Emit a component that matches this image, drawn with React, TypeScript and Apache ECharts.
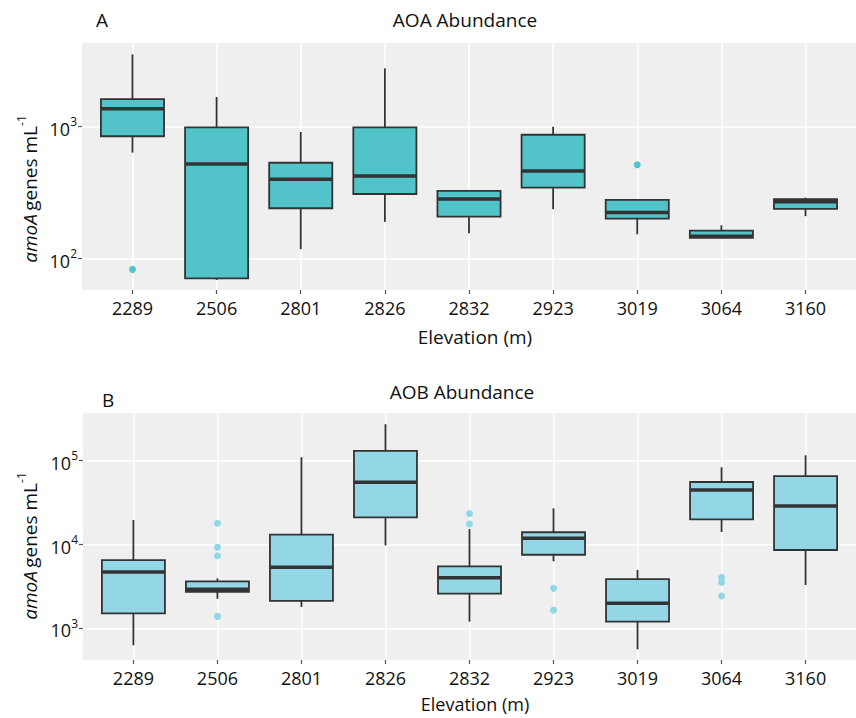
import React, { useEffect, useRef } from "react";
import * as echarts from "echarts";

// ---- data ----
const elevations = ["2289", "2506", "2801", "2826", "2832", "2923", "3019", "3064", "3160"];

// AOA amoA genes mL-1 (box statistics per elevation)
const aoaMin = [636, 69, 118, 190, 156, 237, 153, 144, 210];
const aoaQ1 = [846, 71, 241, 309, 208, 345, 201, 144, 238];
const aoaMedian = [1369, 521, 400, 423, 283, 461, 224, 148, 270];
const aoaQ3 = [1615, 989, 533, 989, 326, 869, 279, 163, 282];
const aoaMax = [3532, 1679, 912, 2767, 331, 1000, 279, 179, 290];
const aoaOutliers = [
  [0, 83],
  [6, 515],
];

// AOB amoA genes mL-1
const aobMin = [627, 2250, 1800, 9770, 1200, 6300, 561, 14100, 3290];
const aobQ1 = [1510, 2730, 2130, 21100, 2590, 7550, 1200, 20000, 8600];
const aobMedian = [4700, 2920, 5340, 55200, 4020, 11900, 1990, 44700, 28800];
const aobQ3 = [6530, 3640, 13100, 131000, 5500, 14000, 3870, 55700, 65600];
const aobMax = [19600, 3950, 110000, 272000, 15300, 27000, 4970, 83400, 116000];
const aobOutliers = [
  [1, 17900],
  [1, 9270],
  [1, 7350],
  [1, 1390],
  [4, 23500],
  [4, 17600],
  [5, 3000],
  [5, 1650],
  [7, 4060],
  [7, 3540],
  [7, 2430],
];

// axis ranges / ticks (genes mL-1, shown on a log10 scale)
const aoaRange = [57.9, 4305];
const aobRange = [419, 370700];
const aoaTicks = [100, 1000];
const aobTicks = [1000, 10000, 100000];

const FONT = "'Open Sans', 'Noto Sans', sans-serif";
const AOA_FILL = "#52C3C8";
const AOB_FILL = "#93D6E6";
const EDGE = "#333333";
const PANEL_BG = "#EFEFEF";

const lg = (v: number) => Math.log10(v);

function boxData(mins: number[], q1: number[], med: number[], q3: number[], max: number[]) {
  return elevations.map((_, i) => [i, lg(mins[i]), lg(q1[i]), lg(med[i]), lg(q3[i]), lg(max[i])]);
}

function outlierData(list: number[][]) {
  return list.map(([i, v]) => [i, lg(v)]);
}

function makeRender(fill: string) {
  return (params: any, api: any) => {
    const x = api.value(0);
    const pMin = api.coord([x, api.value(1)]);
    const pQ1 = api.coord([x, api.value(2)]);
    const pMed = api.coord([x, api.value(3)]);
    const pQ3 = api.coord([x, api.value(4)]);
    const pMax = api.coord([x, api.value(5)]);
    const left = api.coord([x - 0.375, api.value(3)])[0];
    const right = api.coord([x + 0.375, api.value(3)])[0];
    const cx = pMed[0];
    return {
      type: "group",
      children: [
        {
          type: "line",
          shape: { x1: cx, y1: pMax[1], x2: cx, y2: pQ3[1] },
          style: { stroke: EDGE, lineWidth: 1.8 },
        },
        {
          type: "line",
          shape: { x1: cx, y1: pQ1[1], x2: cx, y2: pMin[1] },
          style: { stroke: EDGE, lineWidth: 1.8 },
        },
        {
          type: "rect",
          shape: { x: left, y: pQ3[1], width: right - left, height: pQ1[1] - pQ3[1] },
          style: { fill, stroke: EDGE, lineWidth: 1.8 },
        },
        {
          type: "line",
          shape: { x1: left, y1: pMed[1], x2: right, y2: pMed[1] },
          style: { stroke: EDGE, lineWidth: 3.5 },
        },
      ],
    };
  };
}

const xIdx = elevations.map((_, i) => i);

function makeX(gridIndex: number) {
  return {
    type: "value",
    gridIndex,
    min: -0.6,
    max: 8.6,
    minInterval: 1,
    maxInterval: 1,
    splitNumber: 9,
    axisLine: { show: false, onZero: false },
    axisTick: {
      show: true,
      length: 4,
      customValues: xIdx,
      lineStyle: { color: "#555", width: 1.2 },
    },
    axisLabel: {
      customValues: xIdx,
      margin: 9,
      fontSize: 18,
      color: "#111",
      fontFamily: FONT,
      formatter: (v: number) =>
        Math.abs(v - Math.round(v)) < 1e-6 && elevations[Math.round(v)] ? elevations[Math.round(v)] : "",
    },
    splitLine: {
      show: true,
      lineStyle: { color: "#FFFFFF", width: 1.5 },
    },
  };
}

function makeY(gridIndex: number, range: number[], ticks: number[]) {
  const tickExp = ticks.map(lg);
  return {
    type: "value",
    gridIndex,
    min: lg(range[0]),
    max: lg(range[1]),
    minInterval: 1,
    maxInterval: 1,
    axisLine: { show: false, onZero: false },
    axisTick: {
      show: true,
      length: 4,
      customValues: tickExp,
      lineStyle: { color: "#555", width: 1.2 },
    },
    axisLabel: {
      customValues: tickExp,
      margin: 5,
      formatter: (v: number) => "{b|10}{s|" + Math.round(v) + "}",
      rich: {
        b: { fontSize: 18, lineHeight: 22, color: "#111", fontFamily: FONT, verticalAlign: "bottom" },
        s: { fontSize: 12, lineHeight: 14, color: "#111", fontFamily: FONT, verticalAlign: "top" },
      },
    },
    splitLine: {
      show: true,
      lineStyle: { color: "#FFFFFF", width: 1.5 },
    },
  };
}

function yTitle(x: number, y: number) {
  return {
    type: "text",
    x,
    y,
    rotation: Math.PI / 2,
    style: {
      text: "{i|amoA} {r|genes mL}{s|-1}",
      align: "center",
      verticalAlign: "middle",
      fill: "#111",
      rich: {
        i: { fontSize: 19, fontStyle: "italic", fontFamily: FONT, lineHeight: 24, verticalAlign: "bottom", fill: "#111" },
        r: { fontSize: 19, fontFamily: FONT, lineHeight: 24, verticalAlign: "bottom", fill: "#111" },
        s: { fontSize: 12, fontFamily: FONT, lineHeight: 14, verticalAlign: "top", fill: "#111" },
      },
    },
  };
}

function label(text: string, x: number, y: number, align: string, size: number) {
  return {
    type: "text",
    x,
    y,
    style: {
      text,
      fontSize: size,
      fontFamily: FONT,
      fill: "#111",
      align,
      verticalAlign: "middle",
    },
  };
}

export default function App() {
  const ref = useRef<HTMLDivElement>(null);

  useEffect(() => {
    if (!ref.current) return;
    const chart = echarts.init(ref.current, undefined, { renderer: "svg" });
    const option: any = {
      animation: false,
      backgroundColor: "#FFFFFF",
      textStyle: { fontFamily: FONT },
      grid: [
        { left: 82, top: 43, width: 788, height: 247, show: true, backgroundColor: PANEL_BG, borderWidth: 0 },
        { left: 83, top: 413, width: 781, height: 247, show: true, backgroundColor: PANEL_BG, borderWidth: 0 },
      ],
      xAxis: [makeX(0), makeX(1)],
      yAxis: [makeY(0, aoaRange, aoaTicks), makeY(1, aobRange, aobTicks)],
      series: [
        {
          type: "custom",
          name: "AOA",
          xAxisIndex: 0,
          yAxisIndex: 0,
          renderItem: makeRender(AOA_FILL),
          encode: { x: 0, y: [1, 2, 3, 4, 5] },
          data: boxData(aoaMin, aoaQ1, aoaMedian, aoaQ3, aoaMax),
          z: 3,
        },
        {
          type: "scatter",
          name: "AOA outliers",
          xAxisIndex: 0,
          yAxisIndex: 0,
          symbolSize: 7,
          itemStyle: { color: AOA_FILL, opacity: 1 },
          data: outlierData(aoaOutliers),
          z: 4,
        },
        {
          type: "custom",
          name: "AOB",
          xAxisIndex: 1,
          yAxisIndex: 1,
          renderItem: makeRender(AOB_FILL),
          encode: { x: 0, y: [1, 2, 3, 4, 5] },
          data: boxData(aobMin, aobQ1, aobMedian, aobQ3, aobMax),
          z: 3,
        },
        {
          type: "scatter",
          name: "AOB outliers",
          xAxisIndex: 1,
          yAxisIndex: 1,
          symbolSize: 7,
          itemStyle: { color: AOB_FILL, opacity: 1 },
          data: outlierData(aobOutliers),
          z: 4,
        },
      ],
      graphic: [
        label("A", 96, 20, "left", 19),
        label("AOA Abundance", 465, 20, "center", 19),
        label("Elevation (m)", 475, 337, "center", 19),
        yTitle(27, 189),
        label("B", 102, 400, "left", 19),
        label("AOB Abundance", 462, 392, "center", 19),
        label("Elevation (m)", 475, 704, "center", 18),
        yTitle(27, 546),
      ],
    };
    chart.setOption(option);
    return () => chart.dispose();
  }, []);

  return (
    <div
      ref={ref}
      style={{ position: "absolute", left: 0, top: 0, width: 856, height: 718, overflow: "hidden" }}
    />
  );
}
